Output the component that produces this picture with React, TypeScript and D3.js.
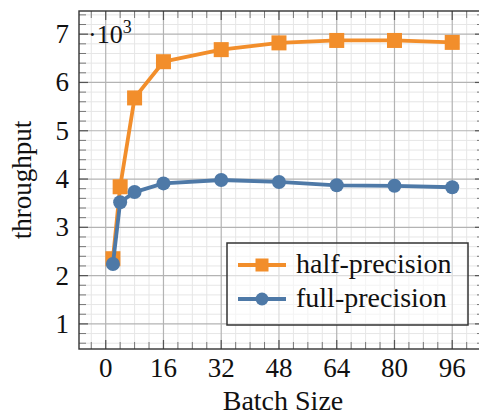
import React from "react";
import * as d3 from "d3";

const batchSizes = [2, 4, 8, 16, 32, 48, 64, 80, 96];
const halfPrecision = [2.35, 3.84, 5.68, 6.43, 6.68, 6.82, 6.87, 6.87, 6.83];
const fullPrecision = [2.24, 3.52, 3.73, 3.91, 3.98, 3.94, 3.87, 3.86, 3.83];
const xTicks = [0, 16, 32, 48, 64, 80, 96];
const yTicks = [1, 2, 3, 4, 5, 6, 7];
const seriesNames = ["half-precision", "full-precision"];

const W = 479;
const H = 418;
const left = 79, top = 11, bottom = 349, right = 484;
const ORANGE = "#F28E2B";
const BLUE = "#4E79A7";
const FONT = "'Liberation Serif', 'Times New Roman', serif";

export default function App() {
  const x = d3.scaleLinear().domain([-7.4, 104.8]).range([left, right]);
  const y = d3.scaleLinear().domain([0.48, 7.48]).range([bottom, top]);
  const xMinor = d3.range(-4, 105, 4).filter((v) => v % 16 !== 0);
  const yMinor = d3.range(6, 75, 2).map((v) => v / 10).filter((v) => Math.abs(v - Math.round(v)) > 1e-6);
  const line = d3
    .line<[number, number]>()
    .x((d) => x(d[0]))
    .y((d) => y(d[1]));
  const halfPts: [number, number][] = batchSizes.map((b, i) => [b, halfPrecision[i]]);
  const fullPts: [number, number][] = batchSizes.map((b, i) => [b, fullPrecision[i]]);
  const sq = 15;
  const tickLen = 7;

  return (
    <svg
      width={W}
      height={H}
      style={{ position: "absolute", left: 0, top: 0, background: "#fff" }}
      fontFamily={FONT}
    >
      <defs>
        <clipPath id="plotclip">
          <rect x={left} y={top} width={right - left} height={bottom - top} />
        </clipPath>
      </defs>
      {/* minor grid */}
      <g stroke="#e6e6e6" strokeWidth={1}>
        {xMinor.map((v) => (
          <line key={"xm" + v} x1={x(v)} x2={x(v)} y1={top} y2={bottom} />
        ))}
        {yMinor.map((v) => (
          <line key={"ym" + v} x1={left} x2={right} y1={y(v)} y2={y(v)} />
        ))}
      </g>
      {/* major grid */}
      <g stroke="#b3b3b3" strokeWidth={1.2}>
        {xTicks.map((v) => (
          <line key={"xM" + v} x1={x(v)} x2={x(v)} y1={top} y2={bottom} />
        ))}
        {yTicks.map((v) => (
          <line key={"yM" + v} x1={left} x2={right} y1={y(v)} y2={y(v)} />
        ))}
      </g>
      {/* ticks */}
      <g stroke="#777" strokeWidth={1}>
        {xMinor.map((v) => (
          <g key={"xt" + v}>
            <line x1={x(v)} x2={x(v)} y1={top} y2={top + tickLen} />
            <line x1={x(v)} x2={x(v)} y1={bottom} y2={bottom - tickLen} />
          </g>
        ))}
        {yMinor.map((v) => (
          <g key={"yt" + v}>
            <line x1={left} x2={left + tickLen} y1={y(v)} y2={y(v)} />
            <line x1={right} x2={right - tickLen} y1={y(v)} y2={y(v)} />
          </g>
        ))}
      </g>
      <g stroke="#555" strokeWidth={1.2}>
        {xTicks.map((v) => (
          <g key={"xT" + v}>
            <line x1={x(v)} x2={x(v)} y1={top} y2={top + tickLen + 2} />
            <line x1={x(v)} x2={x(v)} y1={bottom} y2={bottom - tickLen - 2} />
          </g>
        ))}
        {yTicks.map((v) => (
          <g key={"yT" + v}>
            <line x1={left} x2={left + tickLen + 2} y1={y(v)} y2={y(v)} />
            <line x1={right} x2={right - tickLen - 2} y1={y(v)} y2={y(v)} />
          </g>
        ))}
      </g>
      {/* frame */}
      <rect x={left} y={top} width={right - left} height={bottom - top} fill="none" stroke="#333" strokeWidth={1.4} />

      {/* series */}
      <g clipPath="url(#plotclip)">
        <path d={line(halfPts) || ""} fill="none" stroke={ORANGE} strokeWidth={3.8} strokeLinejoin="round" />
        {halfPts.map((p, i) => (
          <rect key={"h" + i} x={x(p[0]) - sq / 2} y={y(p[1]) - sq / 2} width={sq} height={sq} fill={ORANGE} />
        ))}
        <path d={line(fullPts) || ""} fill="none" stroke={BLUE} strokeWidth={3.8} strokeLinejoin="round" />
        {fullPts.map((p, i) => (
          <circle key={"f" + i} cx={x(p[0])} cy={y(p[1])} r={7} fill={BLUE} />
        ))}
      </g>

      {/* tick labels */}
      <g fontSize={27} fill="#111">
        {xTicks.map((v) => (
          <text key={"xl" + v} x={x(v)} y={377} textAnchor="middle">
            {v}
          </text>
        ))}
        {yTicks.map((v) => (
          <text key={"yl" + v} x={69} y={y(v) + 9} textAnchor="end">
            {v}
          </text>
        ))}
      </g>
      <text x={88} y={43} fontSize={26} fill="#111">
        ·10
        <tspan dy={-10} fontSize={18}>3</tspan>
      </text>

      {/* axis labels */}
      <text x={283} y={410} fontSize={28} textAnchor="middle" fill="#111">
        Batch Size
      </text>
      <text transform={`translate(31,180) rotate(-90)`} fontSize={27} textAnchor="middle" fill="#111">
        throughput
      </text>

      {/* legend */}
      <g>
        <rect x={227} y={243} width={241} height={82} fill="#fff" fillOpacity={0.55} stroke="#333" strokeWidth={1.5} />
        {seriesNames.map((name, i) => {
          const ly = 265 + i * 34;
          const c = i === 0 ? ORANGE : BLUE;
          return (
            <g key={name}>
              <line x1={238} x2={286} y1={ly} y2={ly} stroke={c} strokeWidth={3.8} />
              {i === 0 ? (
                <rect x={262 - 6.5} y={ly - 6.5} width={13} height={13} fill={c} />
              ) : (
                <circle cx={262} cy={ly} r={6.5} fill={c} />
              )}
              <text x={296} y={ly + 8} fontSize={28} fill="#111">
                {name}
              </text>
            </g>
          );
        })}
      </g>
    </svg>
  );
}
